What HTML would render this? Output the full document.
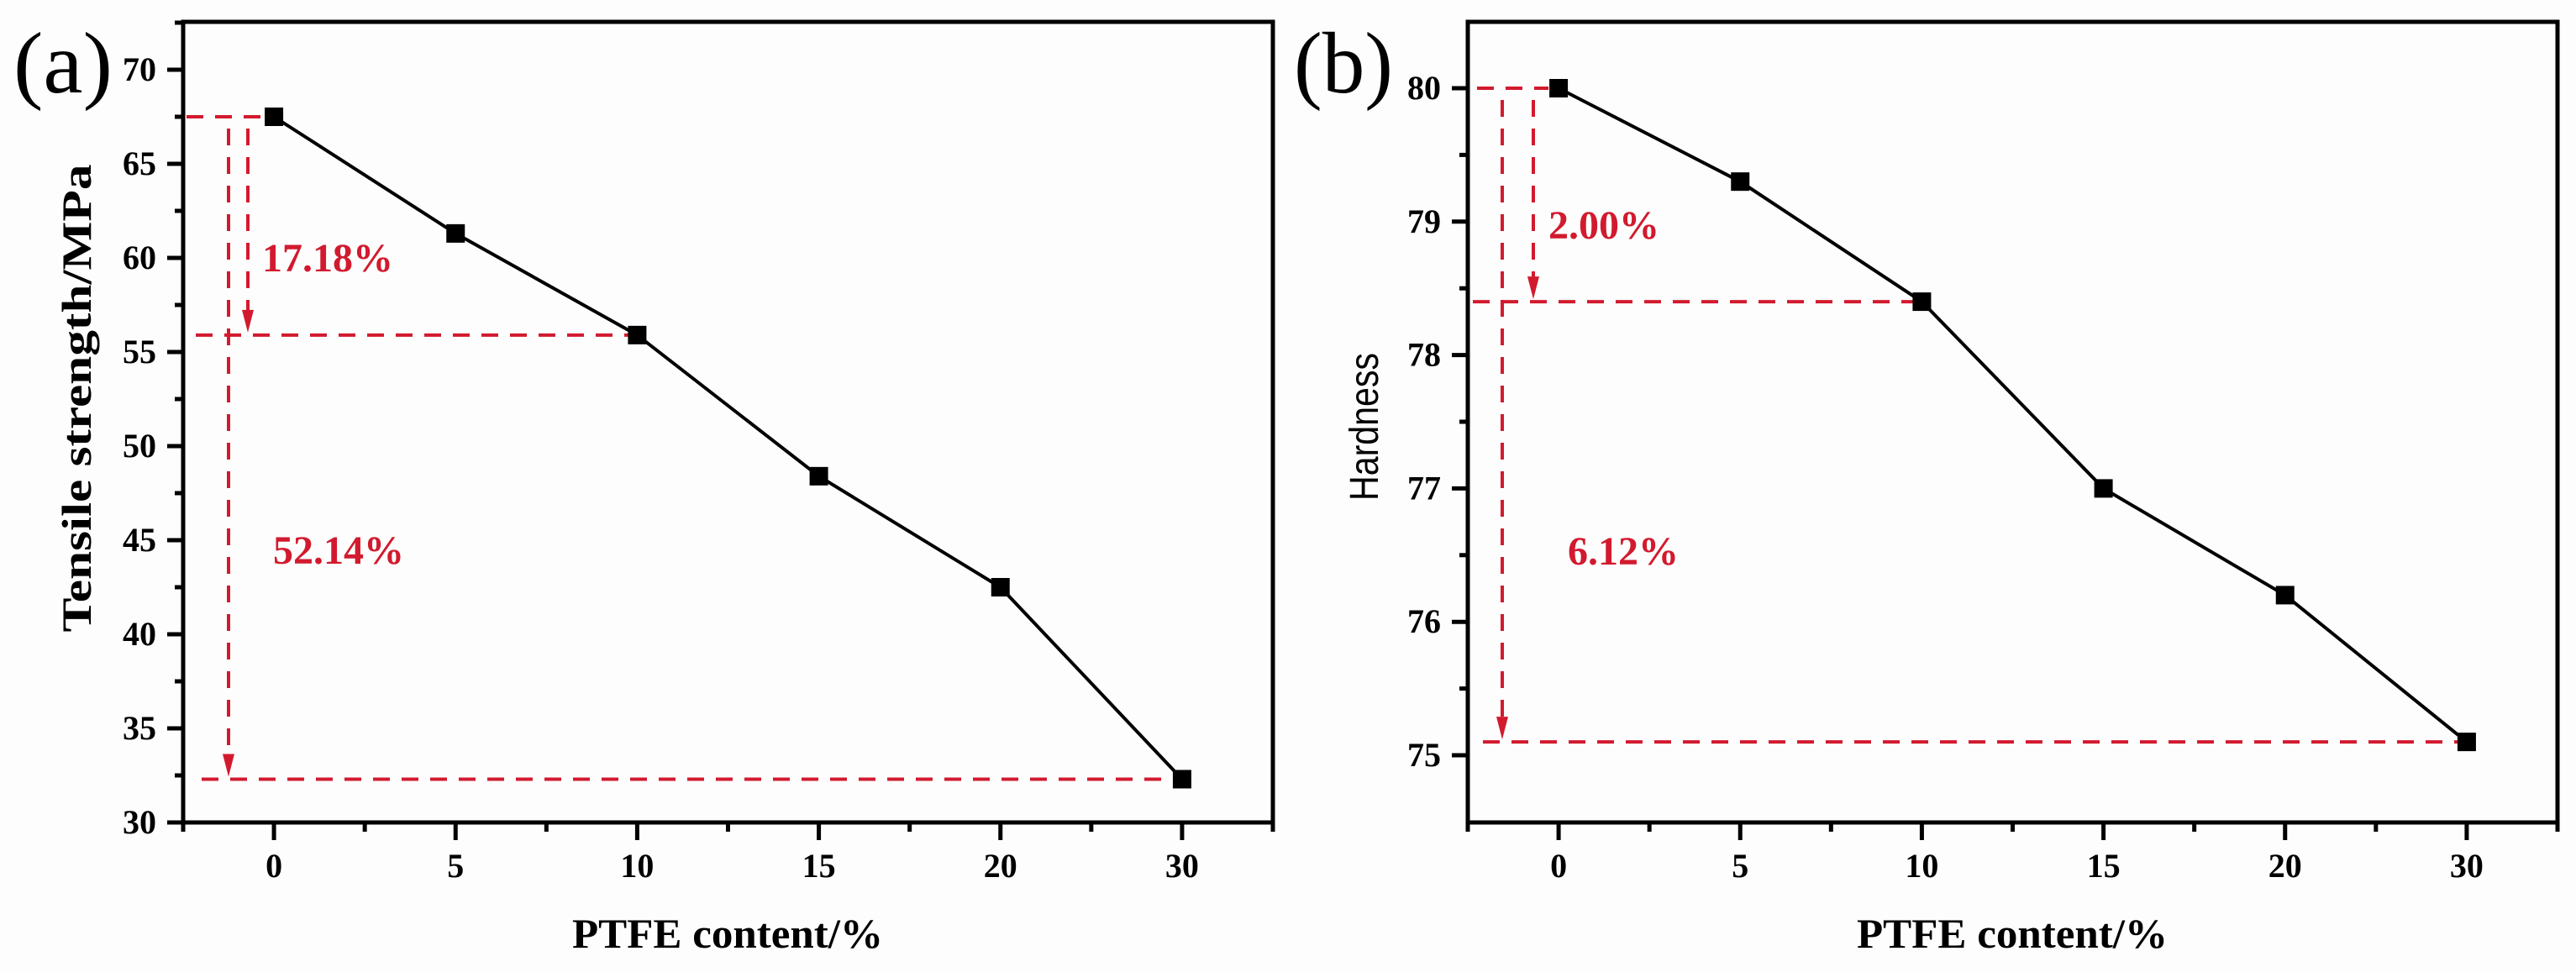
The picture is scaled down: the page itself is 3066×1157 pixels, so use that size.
<!DOCTYPE html>
<html><head><meta charset="utf-8"><style>
html,body{margin:0;padding:0;background:#fdfdfd;}
svg{display:block;}
text{font-family:"Liberation Serif",serif;}
</style></head><body>
<svg id="fig" width="3066" height="1157" viewBox="0 0 3066 1157" xmlns="http://www.w3.org/2000/svg">
<rect x="0" y="0" width="3066" height="1157" fill="#fdfdfd"/>
</svg>
<script>
const categories = ["0","5","10","15","20","30"];
const tensileValues = [67.5, 61.3, 55.9, 48.4, 42.5, 32.3];
const hardnessValues = [80.0, 79.3, 78.4, 77.0, 76.2, 75.1];
const tensileTicks = [30, 35, 40, 45, 50, 55, 60, 65, 70];
const hardnessTicks = [75, 76, 77, 78, 79, 80];
const tensilePercents = ["17.18%", "52.14%"];
const hardnessPercents = ["2.00%", "6.12%"];

const NS = "http://www.w3.org/2000/svg";
const svg = document.getElementById("fig");
const RED = "#d21a2e";
function mk(tag, attrs, parent) {
  const e = document.createElementNS(NS, tag);
  for (const k in attrs) e.setAttribute(k, attrs[k]);
  (parent || svg).appendChild(e);
  return e;
}

function panel(o) {
  const g = mk("g", {});
  
  
  const L = o.left, R = o.left + 1297, T = 26, B = 979;
  const step = (R - L) / categories.length;
  const xS = i => L + step * (i + 0.5);
  const yS = v => o.y0 - (v - o.v0) * o.pxPerUnit;

  // frame
  const frame = mk("rect", {x: L, y: T, width: R - L, height: B - T, fill: "none", stroke: "#000", "stroke-width": 5}, g);
  
  

  // y ticks (major + minor)
  const yt = o.yTicks;
  const minStep = (yt[1] - yt[0]) / 2;
  for (let v = yt[0]; v <= yt[yt.length - 1] + 1e-9 + minStep; v += minStep) {
    const y = yS(v);
    if (y < T) break;
    const major = yt.some(t => Math.abs(t - v) < 1e-6);
    const t = mk("line", {x1: L - (major ? 19 : 10), x2: L, y1: y, y2: y, stroke: "#000", "stroke-width": 5}, g);
    
    
  }
  yt.forEach(v => {
    const tx = mk("text", {x: L - 32, y: yS(v) + 13, "font-size": 40, "font-weight": "bold", "text-anchor": "end", fill: "#000"}, g);
    tx.textContent = String(v);
    
    
  });
  // x ticks
  for (let k = 0; k <= categories.length * 2; k++) {
    const x = L + step * k / 2;
    const major = k % 2 === 1;
    const t = mk("line", {x1: x, x2: x, y1: B, y2: B + (major ? 21 : 11), stroke: "#000", "stroke-width": 5}, g);
    
    
  }
  categories.forEach((c, i) => {
    const tx = mk("text", {x: xS(i), y: 1044, "font-size": 40, "font-weight": "bold", "text-anchor": "middle", fill: "#000"}, g);
    tx.textContent = c;
    
    
  });
  const xt = mk("text", {x: L + 648, y: 1128, "font-size": 50, "font-weight": "bold", "text-anchor": "middle", textLength: 370, lengthAdjust: "spacingAndGlyphs", fill: "#000"}, g);
  xt.textContent = "PTFE content/%";
  
  

  // red annotations
  const vals = o.values;
  const dash = {stroke: RED, "stroke-width": 4, "stroke-dasharray": "20 14", fill: "none"};
  function hl(v, x1, x2, name) {
    const l = mk("line", Object.assign({x1: x1, x2: x2, y1: yS(v), y2: yS(v)}, dash), g);
    
    
  }
  function vl(x, v1, v2, name) {
    const y1 = yS(v1), y2 = yS(v2);
    const l = mk("line", Object.assign({x1: x, x2: x, y1: y1 + 14, y2: y2 - 26}, dash), g);
    
    
    const a = mk("polygon", {points: `${x-7},${y2-30} ${x+7},${y2-30} ${x},${y2-3}`, fill: RED}, g);
    
    
  }
  hl(vals[0], o.hx[0], xS(0) - 12, 'ref-line-start');
  hl(vals[2], o.hx[1], xS(2), 'ref-line-mid');
  hl(vals[5], o.hx[2], xS(5), 'ref-line-end');
  vl(o.vx[0], vals[0], vals[5], 'drop-arrow-total');
  vl(o.vx[1], vals[0], vals[2], 'drop-arrow-partial');
  o.labels.forEach((s, i) => {
    const tx = mk("text", {x: o.lx[i], y: o.ly[i], "font-size": 48, "font-weight": "bold", fill: RED}, g);
    tx.textContent = s;
    
    
  });

  // series line
  const pts = vals.map((v, i) => xS(i) + "," + yS(v)).join(" ");
  const pl = mk("polyline", {points: pts, fill: "none", stroke: "#000", "stroke-width": 4}, g);
  
  
  vals.forEach((v, i) => {
    const m = mk("rect", {x: xS(i) - 11, y: yS(v) - 11, width: 22, height: 22, fill: "#000"}, g);
    
    
  });

  // y title
  const yx = o.yTitle;
  const yt2 = mk("text", {x: 0, y: 0, transform: `translate(${yx.x},${yx.y}) rotate(-90)`, "font-size": yx.size, "font-weight": yx.bold ? "bold" : "normal", "text-anchor": "middle", fill: "#000", style: yx.sans ? 'font-family:"Liberation Sans",sans-serif' : ''}, g);
  if (yx.len) { yt2.setAttribute("textLength", yx.len); yt2.setAttribute("lengthAdjust", "spacingAndGlyphs"); }
  yt2.textContent = yx.text;
  
  

  // panel letter
  const pt = mk("text", {x: o.letterX, y: 110, "font-size": 104, fill: "#000", textLength: 118, lengthAdjust: "spacingAndGlyphs"}, g);
  pt.textContent = o.letter;
  
  
}

panel({name: "panel-a-tensile", left: 218, y0: 979, v0: 30, pxPerUnit: 22.4, values: tensileValues, yTicks: tensileTicks,
  hx: [222, 233, 240], vx: [272, 295], labels: tensilePercents, lx: [312, 325], ly: [323, 671],
  yTitle: {text: "Tensile strength/MPa", x: 108, y: 474, size: 50, bold: true, len: 557}, letter: "(a)", letterX: 16});
panel({name: "panel-b-hardness", left: 1747, y0: 899, v0: 75, pxPerUnit: 158.8, values: hardnessValues, yTicks: hardnessTicks,
  hx: [1758, 1753, 1765], vx: [1788, 1825], labels: hardnessPercents, lx: [1843, 1866], ly: [284, 672],
  yTitle: {text: "Hardness", x: 1640, y: 508, size: 48, bold: false, sans: true, len: 176}, letter: "(b)", letterX: 1540});
</script>
</body></html>
